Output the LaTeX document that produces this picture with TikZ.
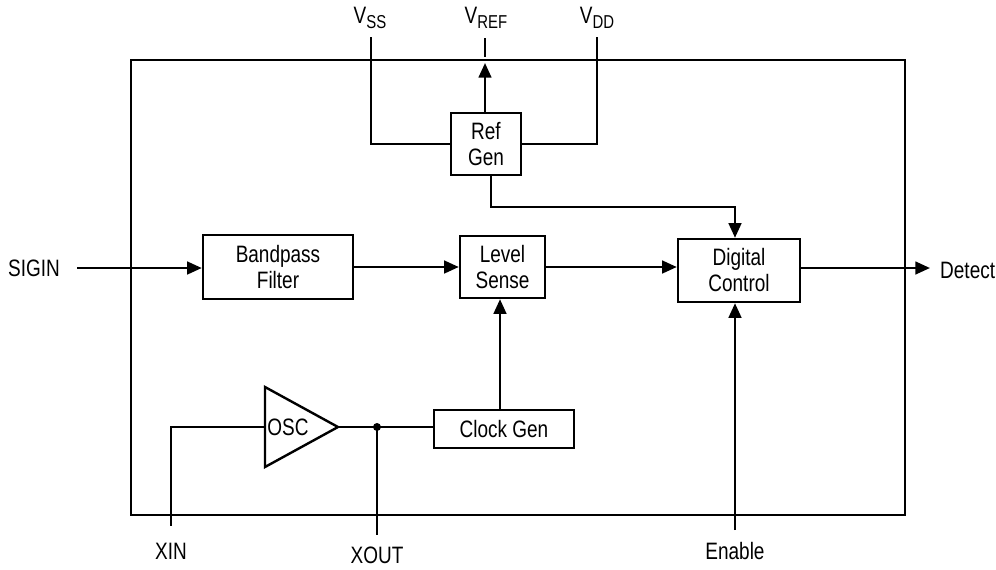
\documentclass[tikz,border=0pt]{standalone}
\usepackage{fontspec}
\setmainfont[FakeStretch=0.8]{Liberation Sans}
\usetikzlibrary{arrows.meta}
\newcommand{\pinsub}[2]{#1\raisebox{-3.5pt}{\fontsize{14}{15}\selectfont #2}}
\begin{document}
\begin{tikzpicture}[x=0.75pt,y=0.75pt,yscale=-1,xscale=1,
  line width=1.8pt,
  blk/.style={draw,line width=1.8pt,inner sep=0pt,align=center,font=\fontsize{17.8}{19.5}\selectfont},
  lbl/.style={inner sep=0.75pt,font=\fontsize{17.8}{19.5}\selectfont},
  sig/.style={-{Triangle[length=11pt,width=9.5pt]}}]
\useasboundingbox (0,0) rectangle (996,569);

%Outer frame
\draw (131,60) rectangle (905,515);

% Blocks
\node[blk,minimum width=70*0.75pt,minimum height=62*0.75pt] (refgen) at (486,144) {Ref\\Gen};
\node[blk,minimum width=150*0.75pt,minimum height=64*0.75pt] (bpf) at (278,267) {Bandpass\\Filter};
\node[blk,minimum width=85*0.75pt,minimum height=62*0.75pt] (lvl) at (502.5,267) {Level\\Sense};
\node[blk,minimum width=122*0.75pt,minimum height=63*0.75pt] (dig) at (739,270.5) {Digital\\Control};
\node[blk,minimum width=140*0.75pt,minimum height=38*0.75pt] (clk) at (504,429) {Clock Gen};

%Oscillator triangle
\draw (265,387) -- (338,427) -- (265,467) -- cycle;
\coordinate (oscin) at (265,427);
\coordinate (oscout) at (338,427);
\node[lbl] (osc) at (288,427) {OSC};

% Pins
\node[lbl] (vss) at (370,18) {\pinsub{V}{SS}};
\node[lbl] (vref) at (486,18) {\pinsub{V}{REF}};
\node[lbl] (vdd) at (597,18) {\pinsub{V}{DD}};
\node[lbl] (sigin) at (34,268) {SIGIN};
\node[lbl,anchor=west] (detect) at (938,270) {Detect};
\node[lbl] (xin) at (171,551) {XIN};
\node[lbl] (xout) at (377,555) {XOUT};
\node[lbl] (enable) at (735,551) {Enable};

\coordinate (vsspin) at (371,37);
\coordinate (vddpin) at (597,37);
\coordinate (vreftop) at (485,38);
\coordinate (vrefbot) at (485,57);
\coordinate (vreftip) at (485,63);
\coordinate (sigpin) at (77,268);
\coordinate (detpin) at (930,268);
\coordinate (enpin) at (735,530);
\coordinate (xinpin) at (171,526);
\coordinate (xoutpin) at (377,535);
\coordinate (xdot) at (377,427);
\coordinate (rgbend) at (491,207);
\coordinate (clkup) at (500,298);

% Connectors
\draw (vsspin) |- (refgen.west);
\draw (vddpin) |- (refgen.east);
\draw (vreftop) -- (vrefbot);
\draw[sig] (refgen.north -| vreftip) -- (vreftip);
\draw[sig] (rgbend |- refgen.south) -- (rgbend) -| ([xshift=-3pt]dig.north);
\draw[sig] (sigpin) -- (sigpin -| bpf.west);
\draw[sig] (bpf.east) -- (lvl.west);
\draw[sig] (lvl.east) -- (lvl.east -| dig.west);
\draw[sig] (dig.east |- detpin) -- (detpin);
\draw[sig] (enpin) -- ([xshift=-3pt]dig.south);
\draw[sig] (clkup |- clk.north) -- (clkup |- lvl.south);
\draw (oscout) -- (oscout -| clk.west);
\draw (oscin) -| (xinpin);
\draw (xdot) -- (xoutpin);
\fill (xdot) circle (4);

\end{tikzpicture}
\end{document}
